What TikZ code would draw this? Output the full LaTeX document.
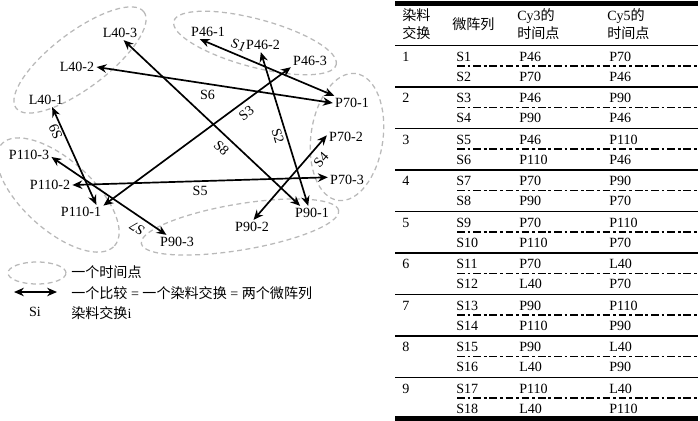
\documentclass[tikz,border=0pt]{standalone}
\usepackage{fontspec}
\setmainfont{Liberation Serif}
\newfontfamily\cjk{Noto Sans CJK SC}
\usetikzlibrary{arrows.meta}

\begin{document}
\begin{tikzpicture}[x=0.025cm, y=-0.025cm,
    tp/.style={draw=gray!55, dash pattern=on 3.5pt off 2.5pt, line width=0.9pt},
    tnode/.style={inner sep=1.5pt},
    arr/.style={{Stealth[length=7pt,width=6pt]}-{Stealth[length=7pt,width=6pt]}, line width=1.2pt},
    lab/.style={inner sep=1pt},
    cell/.style={anchor=west, inner sep=0pt},
    grp/.style={line width=1.4pt},
    sep/.style={line width=1.4pt, dash pattern=on 5.5pt off 2pt on 2pt off 2pt}]
  \useasboundingbox (0,0) rectangle (700,421);
  \draw[tp, rotate around={37:(80,60)}] (80,60) ellipse [x radius=2cm, y radius=0.7cm];
  \draw[tp, rotate around={-15:(255,43)}] (255,43) ellipse [x radius=2.1cm, y radius=0.6cm];
  \draw[tp, rotate around={82:(347,137)}] (347,137) ellipse [x radius=1.6cm, y radius=0.9cm];
  \draw[tp, rotate around={9.5:(240,227)}] (240,227) ellipse [x radius=2.5cm, y radius=0.575cm];
  \draw[tp, rotate around={-42:(58,195)}] (58,195) ellipse [x radius=1.9cm, y radius=0.875cm];
  \node[tnode] (l403) at (120,33) {L40-3};
  \node[tnode] (l402) at (77,67) {L40-2};
  \node[tnode] (l401) at (46,100) {L40-1};
  \node[tnode] (p461) at (208,32) {P46-1};
  \node[tnode] (p462) at (263,45) {P46-2};
  \node[tnode] (p463) at (310,61) {P46-3};
  \node[tnode] (p701) at (352,103) {P70-1};
  \node[tnode] (p702) at (346,137) {P70-2};
  \node[tnode] (p703) at (347,180) {P70-3};
  \node[tnode] (p901) at (312,213) {P90-1};
  \node[tnode] (p902) at (252,227) {P90-2};
  \node[tnode] (p903) at (177,242) {P90-3};
  \node[tnode] (p1103) at (29,155) {P110-3};
  \node[tnode] (p1102) at (50,185) {P110-2};
  \node[tnode] (p1101) at (81,212) {P110-1};
  \draw[arr] (p461.-139) -- node[lab,sloped,above=2pt,pos=.26]{S1} (p701.158);
  \draw[arr] (p462.253) -- node[lab,sloped,below=1pt,pos=.53]{S2} (p901.118);
  \draw[arr] (p1101.16) -- node[lab,sloped,below=2.5pt,pos=.73]{S3} (p463.198);
  \draw[arr] (p902.78) -- node[lab,sloped,below=3.5pt,pos=.8]{S4} (p702.175);
  \draw[arr] (p1102.east) -- node[lab,below=2pt,pos=.5]{S5} (p703.172);
  \draw[arr] (l402.east) -- node[lab,below=3pt,pos=.47]{S6} (p701.180);
  \draw[arr] (p903.146) -- node[lab,sloped,allow upside down,above=3pt,pos=.2]{S7} (p1103.-5);
  \draw[arr] (l403.-63) -- node[lab,sloped,below=3.5pt,pos=.6]{S8} (p901.149);
  \draw[arr] (p1101.25) -- node[lab,sloped,allow upside down,above,pos=.78]{S9} (l401.-49);
  % legend
  \draw[tp] (37,273) ellipse [x radius=0.725cm, y radius=0.275cm];
  \coordinate (la) at (14,292);
  \coordinate (lb) at (57,292);
  \draw[arr] (la) -- (lb);
  \node[lab] (si) at (35,312) {Si};
  \node[cell] (leg1) at (71,272) {\cjk 一个时间点};
  \node[cell] (leg2) at (71,293) {{\cjk 一个比较} = {\cjk 一个染料交换} = {\cjk 两个微阵列}};
  \node[cell] (leg3) at (71,313) {{\cjk 染料交换}i};
  % table
  \draw[line width=3pt] (395,3.5) -- (698,3.5);
  \node[cell, align=left, font=\cjk] (hdx) at (402,24) {染料\\[1pt]交换};
  \node[cell, font=\cjk] (hda) at (452,24) {微阵列};
  \node[cell, align=left] (hd3) at (517,24) {Cy3{\cjk 的}\\[1pt]{\cjk 时间点}};
  \node[cell, align=left] (hd5) at (607,24) {Cy5{\cjk 的}\\[1pt]{\cjk 时间点}};
  \draw[grp] (395,45.5) -- (698,45.5);
  \foreach \k/\a/\b in {1/P46/P70, 2/P46/P90, 3/P46/P110, 4/P70/P90, 5/P70/P110,
      6/P70/L40, 7/P90/P110, 8/P90/L40, 9/P110/L40}{
    \pgfmathsetmacro\ya{45.5+41.5*(\k-1)}
    \pgfmathtruncatemacro\sa{2*\k-1}
    \pgfmathtruncatemacro\sb{2*\k}
    \node[cell] (n\k) at (402,\ya+11) {\k};
    \node[cell] (s\sa) at (456,\ya+11) {S\sa};
    \node[cell] (c\sa) at (519,\ya+11) {\a};
    \node[cell] (d\sa) at (609,\ya+11) {\b};
    \draw[sep] (457,\ya+20.5) -- (698,\ya+20.5);
    \node[cell] (s\sb) at (456,\ya+31) {S\sb};
    \node[cell] (c\sb) at (519,\ya+31) {\b};
    \node[cell] (d\sb) at (609,\ya+31) {\a};
    \draw[grp] (395,\ya+41.5) -- (698,\ya+41.5);
  }
  \draw[line width=3pt] (395,418.5) -- (698,418.5);
\end{tikzpicture}
\end{document}
